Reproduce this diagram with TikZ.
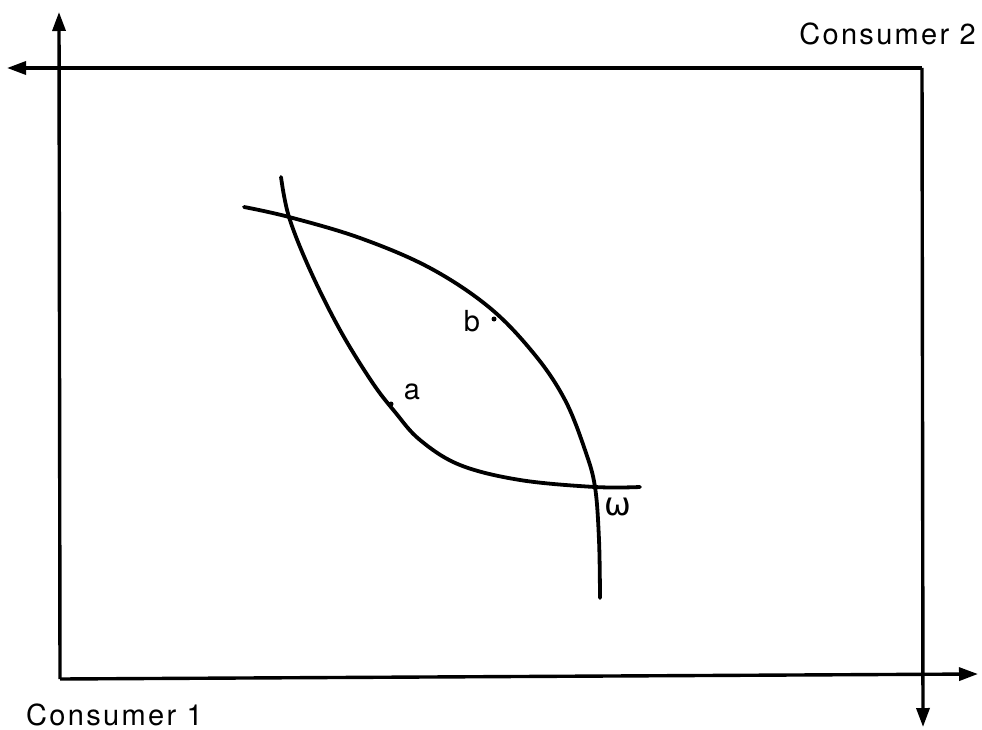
\documentclass[tikz,border=0pt]{standalone}
\usepackage{fontspec}
\setmainfont{TeX Gyre Heros}
\newfontfamily\greekfont{DejaVu Sans}
\usetikzlibrary{arrows.meta}
\begin{document}
\begin{tikzpicture}[x=1pt,y=-1pt,
  axis/.style={line width=3.4pt,-{Triangle[length=19pt,width=13pt]}},
  curve/.style={line width=3.8pt,line cap=round},
  lbl/.style={inner sep=0pt,font=\fontsize{29}{32}\selectfont\addfontfeatures{LetterSpace=8}},
  dotmark/.style={circle,fill=black,inner sep=0pt,minimum size=5pt}]
\useasboundingbox (0,0) rectangle (982,730);
% Consumer 1 axes
\coordinate (O1) at (60,679);
\coordinate (O1top) at (59,12);
\coordinate (O1right) at (978,674);
\draw[axis] (O1) -- (O1top);
\draw[axis] (O1) -- (O1right);
% Consumer 2 axes
\coordinate (O2) at (922,68);
\coordinate (O2left) at (7,68);
\coordinate (O2down) at (923,727);
\draw[axis] (O2) -- (O2left);
\draw[axis] (O2) -- (O2down);
% Labels
\node[lbl,anchor=base east] (c2) at (976,45) {Consumer 2};
\node[lbl,anchor=base west] (c1) at (26,725) {Consumer 1};
% Indifference curve of consumer 1
\draw[curve] plot[smooth,tension=0.6] coordinates {(281,177) (289,217) (310,270) (340,330) (372,382) (395,412) (420,440) (460,465) (520,480) (595,487) (640,487)};
% Indifference curve of consumer 2
\draw[curve] plot[smooth,tension=0.6] coordinates {(244,207) (289,217) (360,238) (430,268) (490,308) (535,355) (565,400) (585,450) (595,487) (599,540) (600,598)};
% Points
\node[dotmark] (a) at (391,404) {};
\node[dotmark] (b) at (494,319) {};
\node[lbl,anchor=base] (alab) at (412,399) {a};
\node[lbl,anchor=base] (blab) at (472,331) {b};
\node[inner sep=0pt,anchor=base,font=\fontsize{32}{34}\selectfont\greekfont] (w) at (618,515) {ω};
\end{tikzpicture}
\end{document}
